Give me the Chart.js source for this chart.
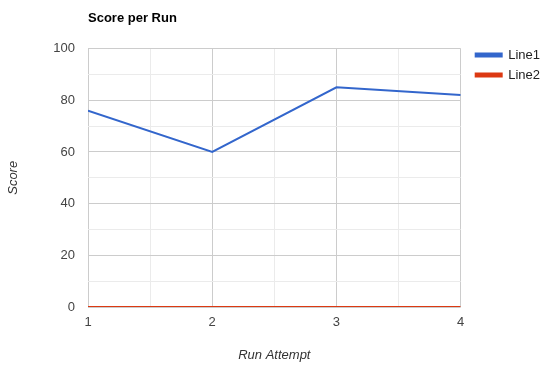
<!DOCTYPE html>
<html>
<head>
<meta charset="utf-8">
<script src="https://cdn.jsdelivr.net/npm/chart.js@4/dist/chart.umd.min.js"></script>
<style>
  html,body{margin:0;padding:0;background:#fff;}
  #wrap{width:542px;height:367px;}
</style>
</head>
<body>
<div id="wrap"><canvas id="c" width="542" height="367"></canvas></div>
<script>
/* DATA */
const runs = [1, 2, 3, 4];
const line1 = [76, 60, 85, 82];
const line2 = [0, 0, 0, 0];
const yTicks = [0, 20, 40, 60, 80, 100];

const pts = (vals)=> runs.map((r,i)=> ({x:r, y:vals[i]}));
const FONT = "'Liberation Sans', Arial, sans-serif";
const major = '#cccccc', minor = '#ebebeb';

/* nudge legend next to the top of the plot, like the original */
const legendNudge = {
  id:'legendNudge',
  afterLayout(chart){
    const lg = chart.legend;
    if(!lg) return;
    const dx = chart.chartArea.right + 8 - lg.left;
    const dy = chart.chartArea.top - 7 - lg.top;
    lg.left += dx; lg.right += dx;
    lg.top += dy; lg.bottom += dy;
  }
};

new Chart(document.getElementById('c'), {
  type:'line',
  data:{
    datasets:[
      {label:'Line1', data:pts(line1), borderColor:'#3366cc', backgroundColor:'#3366cc', borderWidth:2, pointRadius:0, tension:0},
      {label:'Line2', data:pts(line2), borderColor:'#dc3912', backgroundColor:'#dc3912', borderWidth:2, pointRadius:0, tension:0}
    ]
  },
  plugins:[legendNudge],
  options:{
    responsive:false,
    animation:false,
    layout:{padding:{left:0,right:0,top:0,bottom:0}},
    plugins:{
      title:{
        display:true, text:'Score per Run', align:'start', fullSize:false,
        color:'#000', font:{family:FONT, size:13, weight:'bold'},
        padding:{top:11, bottom:22}
      },
      legend:{
        position:'right', align:'start', fullSize:false,
        labels:{
          boxWidth:26, boxHeight:3, padding:7,
          color:'#222', font:{family:FONT, size:13}
        }
      },
      tooltip:{enabled:false}
    },
    scales:{
      x:{
        type:'linear', min:1, max:4,
        grid:{drawTicks:false, color:(c)=> c.tick && c.tick.value % 1 === 0 ? major : minor},
        border:{display:false},
        ticks:{stepSize:0.5, padding:8, color:'#444', font:{family:FONT, size:13},
          autoSkip:false, maxRotation:0,
          callback:(v)=> runs.includes(v) ? String(v) : ''},
        title:{display:true, text:'Run Attempt', color:'#333', font:{family:FONT, size:13, style:'italic'}, padding:{top:4,bottom:4}},
        afterFit:(s)=>{ s.height = 60; }
      },
      y:{
        min:0, max:100,
        grid:{drawTicks:false, color:(c)=> c.tick && c.tick.value % 20 === 0 ? major : minor},
        border:{display:false},
        ticks:{stepSize:10, padding:13, color:'#444', font:{family:FONT, size:13},
          autoSkip:false,
          callback:(v)=> yTicks.includes(v) ? String(v) : ''},
        title:{display:true, text:'Score', color:'#333', font:{family:FONT, size:13, style:'italic'}, padding:{top:6,bottom:4}},
        afterFit:(s)=>{ s.width = 88; }
      }
    }
  }
});
</script>
</body>
</html>
